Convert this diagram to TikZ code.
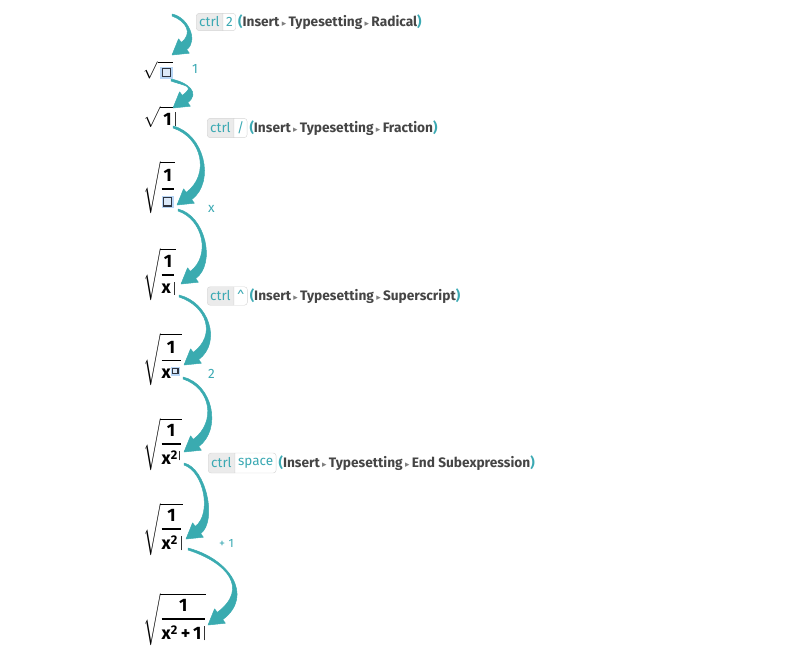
\documentclass[tikz,border=0pt]{standalone}
\usepackage{amsmath}
\usepackage{fontspec}
\setmainfont{Fira Sans}
\newfontfamily\symfont{DejaVu Sans}
\usetikzlibrary{positioning,calc,shapes.multipart}

\definecolor{arrowteal}{HTML}{3AABB0}
\definecolor{keyteal}{HTML}{3BA9B3}
\definecolor{menugray}{HTML}{454545}
\definecolor{keyfill}{HTML}{EBEBEB}
\definecolor{keyline}{HTML}{D4D4D4}
\definecolor{phblue}{HTML}{B9D6F6}
\definecolor{phinner}{HTML}{DCE9F8}
\definecolor{phline}{HTML}{2E3440}

% placeholder square, #1 = side
\newcommand\phbox[1]{{\setlength{\fboxsep}{1.5pt}\colorbox{phblue}{\setlength{\fboxsep}{0pt}\setlength{\fboxrule}{1.1pt}\fcolorbox{phline}{phinner}{\rule{0pt}{#1}\hspace{#1}}}}}
\newcommand\curs[1]{\,\textcolor{black!80}{\rule[-1pt]{0.7pt}{#1}}}
\newcommand\mnu{{\symfont\color{gray}\fontsize{9}{9}\selectfont ▸}}
\newcommand\fr[2]{\genfrac{}{}{1.8pt}{0}{\rule{0pt}{15pt}#1}{#2\rule[-5pt]{0pt}{5pt}}}

% tapered bent arrow: #1 start, #2 tip, #3 bulge
\newcommand\bentarrow[3]{%
  \filldraw[arrowteal, line width=0.5pt, line join=round] ($(#1)+(0,-1)$)
    .. controls ($(#1)+({#3+1},{0.3*#3-2.5})$) and ($(#2)+({14.7+0.8*#3},{-5.4-0.6*#3})$) .. ($(#2)+(14.7,-5.4)$)
    -- ($(#2)+(17.4,-1.8)$) -- (#2) -- ($(#2)+(6.6,-16.2)$) -- ($(#2)+(9.3,-12.6)$)
    .. controls ($(#2)+({9.3+0.8*#3},{-12.6-0.6*#3})$) and ($(#1)+({#3-1},{0.3*#3+1.5})$) .. ($(#1)+(0,1)$) -- cycle;}

\tikzset{
  expr/.style={anchor=south west, inner sep=0pt, font=\fontsize{18}{21}\selectfont},
  keycap/.style={draw=keyline, rounded corners=3pt, rectangle split, rectangle split horizontal,
    rectangle split parts=2, rectangle split part fill={keyfill,white}, text=keyteal,
    inner xsep=3pt, inner ysep=3.5pt, font=\fontsize{13.5}{15}\selectfont},
  menu/.style={inner sep=0pt, text=menugray, font=\fontsize{13.7}{15}\selectfont\bfseries},
  typed/.style={inner sep=0pt, text=keyteal, font=\fontsize{13.5}{15}\selectfont},
}

\begin{document}
\begin{tikzpicture}[x=1pt, y=-1pt]
  \useasboundingbox (0,0) rectangle (799,649);

  % the expression after each step
  \node[expr] (e1) at (143,79) {$\sqrt{\rule{0pt}{13pt}\,\phbox{7pt}}$};
  \node[expr] (e2) at (143,128) {$\sqrt{\rule{0pt}{15pt}\,\textbf{1}\curs{14pt}}$};
  \node[expr] (e3) at (143,214) {$\sqrt{\fr{\textbf{1}}{\phbox{7pt}}}$};
  \node[expr] (e4) at (143,301) {$\sqrt{\fr{\textbf{1}}{\textbf{x}\curs{13pt}}}$};
  \node[expr] (e5) at (143,386) {$\sqrt{\fr{\textbf{1}}{\textbf{x}^{\phbox{4pt}}}}$};
  \node[expr] (e6) at (143,471) {$\sqrt{\fr{\textbf{1}}{\textbf{x}^{\textbf{2}\curs{9pt}}}}$};
  \node[expr] (e7) at (143,556) {$\sqrt{\fr{\textbf{1}}{\textbf{x}^{\textbf{2}}\curs{14pt}}}$};
  \node[expr] (e8) at (143,646) {$\sqrt{\fr{\textbf{1}}{\textbf{x}^{\textbf{2}}\,\textbf{+}\,\textbf{1}\curs{14pt}}}$};

  % key strokes and menu items
  \node[keycap, anchor=west] (k1) at (196,22) {ctrl\nodepart{two}2};
  \node[menu, right=2pt of k1] (m1) {{\color{keyteal}(}Insert\,\mnu\,Typesetting\,\mnu\,Radical{\color{keyteal})}};
  \node[typed, anchor=west] (t1) at (192,69) {1};
  \node[keycap, anchor=west] (k2) at (207,128) {ctrl\nodepart{two}/};
  \node[menu, right=2pt of k2] (m2) {{\color{keyteal}(}Insert\,\mnu\,Typesetting\,\mnu\,Fraction{\color{keyteal})}};
  \node[typed, anchor=west] (t2) at (208,209) {x};
  \node[keycap, anchor=west] (k3) at (207,296) {ctrl\nodepart{two}\^{}};
  \node[menu, right=2pt of k3] (m3) {{\color{keyteal}(}Insert\,\mnu\,Typesetting\,\mnu\,Superscript{\color{keyteal})}};
  \node[typed, anchor=west] (t3) at (208,374) {2};
  \node[keycap, anchor=west] (k4) at (208,463) {ctrl\nodepart{two}space};
  \node[menu, right=2pt of k4] (m4) {{\color{keyteal}(}Insert\,\mnu\,Typesetting\,\mnu\,End Subexpression{\color{keyteal})}};
  \node[typed, anchor=west, font=\fontsize{12}{14}\selectfont] (t4) at (219,543) {+\;1};

  % arrow ends
  \coordinate (a1s) at (172,15);  \coordinate (a1t) at (172,55);
  \coordinate (a2s) at (171,80);  \coordinate (a2t) at (173,108);
  \coordinate (a3s) at (173,127); \coordinate (a3t) at (177,205);
  \coordinate (a4s) at (178,210); \coordinate (a4t) at (181,284);
  \coordinate (a5s) at (179,296); \coordinate (a5t) at (184,365);
  \coordinate (a6s) at (183,378); \coordinate (a6t) at (184,452);
  \coordinate (a7s) at (184,464); \coordinate (a7t) at (186,539);
  \coordinate (a8s) at (188,549); \coordinate (a8t) at (208,625);

  \bentarrow{a1s}{a1t}{15}
  \bentarrow{a2s}{a2t}{16}
  \bentarrow{a3s}{a3t}{30}
  \bentarrow{a4s}{a4t}{26}
  \bentarrow{a5s}{a5t}{29}
  \bentarrow{a6s}{a6t}{29}
  \bentarrow{a7s}{a7t}{21}
  \bentarrow{a8s}{a8t}{40}
\end{tikzpicture}
\end{document}
